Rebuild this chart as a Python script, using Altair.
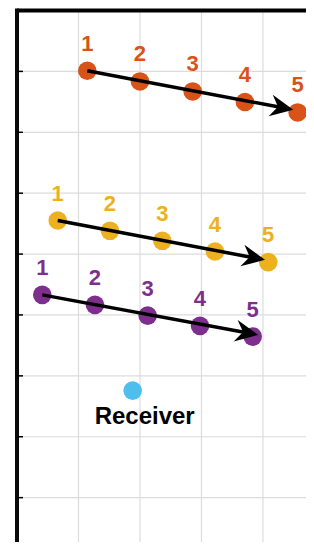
import math
import altair as alt
import pandas as pd

# ---------------- data (grid units) ----------------
series_names = ["orange", "yellow", "purple"]
series_colors = ["#D95319", "#EDB120", "#7E2F8E"]
point_labels = ["1", "2", "3", "4", "5"]

orange_x = [1.143, 2.000, 2.857, 3.707, 4.564]
orange_y = [8.011, 7.835, 7.671, 7.497, 7.326]
yellow_x = [0.662, 1.512, 2.363, 3.220, 4.086]
yellow_y = [5.551, 5.382, 5.218, 5.042, 4.868]
purple_x = [0.411, 1.268, 2.125, 2.976, 3.833]
purple_y = [4.330, 4.166, 3.990, 3.821, 3.645]

arrow_tip_x = [4.493, 4.033, 3.924]
arrow_tip_y = [7.370, 4.905, 3.673]

receiver_x = [1.881]
receiver_y = [2.758]
receiver_text = ["Receiver"]

x_grid = [1, 2, 3, 4]
y_grid = [1, 2, 3, 4, 5, 6, 7, 8]

X_MIN, X_MAX = 0.0, 4.70
Y_MIN, Y_MAX = 0.05, 9.0

# ---------------- layout ----------------
W, H = 289, 545
PX = W / (X_MAX - X_MIN)
PY = H / (Y_MAX - Y_MIN)

xs = [orange_x, yellow_x, purple_x]
ys = [orange_y, yellow_y, purple_y]

rows = []
for name, sx, sy in zip(series_names, xs, ys):
    for lab, vx, vy in zip(point_labels, sx, sy):
        rows.append({"series": name, "label": lab, "x": vx, "y": vy})
pts = pd.DataFrame(rows)

arrows = []
for name, sx, sy, tx, ty in zip(series_names, xs, ys, arrow_tip_x, arrow_tip_y):
    dx = (tx - sx[0]) * PX
    dy = -(ty - sy[0]) * PY
    L = math.hypot(dx, dy)
    ux, uy = dx / L, dy / L
    back = 13.0
    arrows.append({
        "series": name,
        "x0": sx[0], "y0": sy[0],
        "x1": tx - back * ux / PX, "y1": ty + back * uy / PY,
        "tx": tx, "ty": ty,
        "angle": math.degrees(math.atan2(dy, dx)) % 360,
    })
arr = pd.DataFrame(arrows)

rec = pd.DataFrame({"x": receiver_x, "y": receiver_y, "t": receiver_text})

n_x, n_y = len(x_grid), len(y_grid)
vgrid = pd.DataFrame({"v": x_grid, "ya": [Y_MIN] * n_x, "yb": [Y_MAX] * n_x})
hgrid = pd.DataFrame({"v": y_grid, "xa": [X_MIN] * n_y, "xb": [X_MAX] * n_y})
frame_top = pd.DataFrame({"xa": [X_MIN], "xb": [X_MAX], "y": [Y_MAX]})
frame_bottom = pd.DataFrame({"xa": [X_MIN], "xb": [X_MAX], "y": [Y_MIN]})
frame_left = pd.DataFrame({"xa": [X_MIN - 2 / PX], "xb": [X_MIN + 2 / PX],
                           "ya": [Y_MIN], "yb": [Y_MAX + 2 / PY]})
yticks = pd.DataFrame({"v": y_grid, "xa": [X_MIN] * n_y, "xb": [X_MIN + 6 / PX] * n_y})
xticks = pd.DataFrame({"v": x_grid, "ya": [Y_MIN] * n_x, "yb": [Y_MIN + 4 / PY] * n_x})

xscale = alt.Scale(domain=[X_MIN, X_MAX], nice=False, zero=False)
yscale = alt.Scale(domain=[Y_MIN, Y_MAX], nice=False, zero=False)
color = alt.Color("series:N", scale=alt.Scale(domain=series_names, range=series_colors), legend=None)

FONT = "Liberation Sans"
GRID = "#dcdcdc"


def X(f):
    return alt.X(f, type="quantitative", scale=xscale, axis=None)


def Y(f):
    return alt.Y(f, type="quantitative", scale=yscale, axis=None)


vlines = alt.Chart(vgrid).mark_rule(color=GRID, strokeWidth=1.2).encode(
    x=X("v"), y=Y("ya"), y2="yb:Q",
)
hlines = alt.Chart(hgrid).mark_rule(color=GRID, strokeWidth=1.2).encode(
    y=Y("v"), x=X("xa"), x2="xb:Q",
)

points = alt.Chart(pts).mark_circle(size=346, opacity=1).encode(
    x=X("x"), y=Y("y"), color=color,
)

nums = alt.Chart(pts).mark_text(dy=-27, fontSize=22, fontWeight="bold", font=FONT, baseline="middle").encode(
    x=X("x"), y=Y("y"), text="label:N", color=color,
)

lines = alt.Chart(arr).mark_rule(color="black", strokeWidth=3.5).encode(
    x=X("x0"), y=Y("y0"), x2="x1:Q", y2="y1:Q",
)

head_path = "M0,0 L-2,-0.95 L-1.35,0 L-2,0.95 Z"
heads = alt.Chart(arr).mark_point(shape=head_path, filled=True, color="black", size=529,
                                  opacity=1, strokeWidth=0).encode(
    x=X("tx"), y=Y("ty"), angle=alt.Angle("angle:Q", scale=None),
)

receiver = alt.Chart(rec).mark_circle(size=346, opacity=1, color="#4DBEEE").encode(
    x=X("x"), y=Y("y"),
)
receiver_lab = alt.Chart(rec).mark_text(dx=12, dy=26, fontSize=24, fontWeight="bold", font=FONT,
                                        color="black", baseline="middle").encode(
    x=X("x"), y=Y("y"), text="t:N",
)

bottom_line = alt.Chart(frame_bottom).mark_rule(color="#c8c8c8", strokeWidth=1).encode(
    x=X("xa"), x2="xb:Q", y=Y("y"),
)
top_border = alt.Chart(frame_top).mark_rule(color="black", strokeWidth=4).encode(
    x=X("xa"), x2="xb:Q", y=Y("y"),
)
left_border = alt.Chart(frame_left).mark_rect(color="#0a0a0a", opacity=1, strokeWidth=0).encode(
    x=X("xa"), x2="xb:Q", y=Y("ya"), y2="yb:Q",
)

left_ticks = alt.Chart(yticks).mark_rule(color="black", strokeWidth=1.5).encode(
    y=Y("v"), x=X("xa"), x2="xb:Q",
)

bottom_ticks = alt.Chart(xticks).mark_rule(color="#333333", strokeWidth=1.5).encode(
    x=X("v"), y=Y("ya"), y2="yb:Q",
)

chart = alt.layer(
    vlines, hlines, points, lines, heads, nums, receiver, receiver_lab,
    bottom_line, top_border, left_border, left_ticks, bottom_ticks
).properties(
    width=W, height=H,
    autosize=alt.AutoSizeParams(type="none"),
    padding={"left": 9, "top": 2.5, "right": 0, "bottom": -14},
).configure_view(stroke=None)

chart.save("out.html", embed_options={"renderer": "svg", "actions": False})
